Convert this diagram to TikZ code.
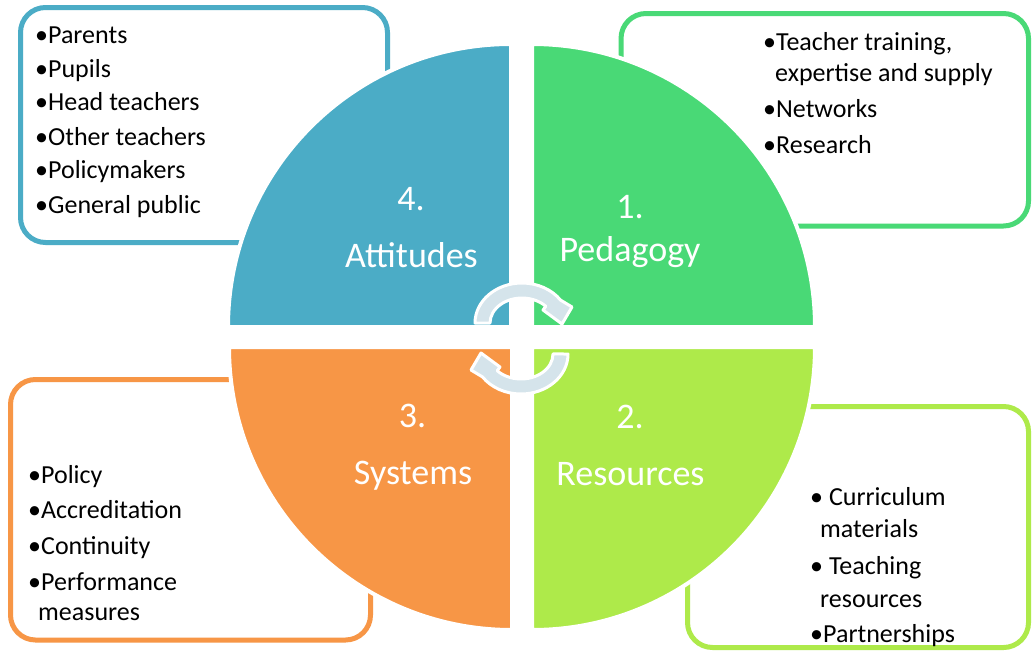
\documentclass[tikz,border=0pt]{standalone}
\usepackage{fontspec}
\setmainfont{Carlito}
\definecolor{qblue}{HTML}{4BACC6}
\definecolor{qgreen}{HTML}{49D976}
\definecolor{qlime}{HTML}{AEEA4A}
\definecolor{qorange}{HTML}{F79646}
\definecolor{arrowfill}{HTML}{D5E4EB}
\begin{document}
\begin{tikzpicture}[x=1pt,y=-1pt,
  item/.style={anchor=base west,inner sep=0pt,font=\fontsize{26}{31}\selectfont,text=black},
  qlabel/.style={anchor=base,inner sep=0pt,font=\fontsize{36}{43}\selectfont,text=white},
  boxframe/.style={line width=5pt,rounded corners=25pt,fill=white},
  quad/.style={draw=white,line width=4pt},
  cyc/.style={fill=arrowfill,draw=white,line width=3pt,line join=round}]
\useasboundingbox[fill=white] (0,0) rectangle (1032,651);

% boxes
\draw[boxframe,draw=qblue] (20.5,7.5) rectangle (387.5,242.5);
\draw[boxframe,draw=qgreen] (621,13.5) rectangle (1028.5,226);
\draw[boxframe,draw=qorange] (10.5,379.5) rectangle (370.5,640);
\draw[boxframe,draw=qlime] (687.5,406.5) rectangle (1028.5,647.5);

% lists
\node[item] (a1) at (35,43) {•Parents};
\node[item] (a2) at (35,77) {•Pupils};
\node[item] (a3) at (35,110) {•Head teachers};
\node[item] (a4) at (35,145) {•Other teachers};
\node[item] (a5) at (35,178) {•Policymakers};
\node[item] (a6) at (35,213) {•General public};

\node[item] (p1) at (763,50) {•Teacher training,};
\node[item] (p1b) at (775,81) {expertise and supply};
\node[item] (p2) at (763,117) {•Networks};
\node[item] (p3) at (763,153) {•Research};

\node[item] (s1) at (28,483) {•Policy};
\node[item] (s2) at (28,518) {•Accreditation};
\node[item] (s3) at (28,554) {•Continuity};
\node[item] (s4) at (28,590) {•Performance};
\node[item] (s4b) at (38,620) {measures};

\node[item] (r1) at (810,505) {• Curriculum};
\node[item] (r1b) at (820,537) {materials};
\node[item] (r2) at (810,574) {• Teaching};
\node[item] (r2b) at (820,607) {resources};
\node[item] (r3) at (810,642) {•Partnerships};

% quadrants
\path[quad,fill=qblue] (511,327) -- (228,327) arc[start angle=180,end angle=270,radius=283] -- cycle;
\path[quad,fill=qgreen] (532,327) -- (532,44) arc[start angle=270,end angle=360,radius=283] -- cycle;
\path[quad,fill=qlime] (532,347) -- (815,347) arc[start angle=0,end angle=90,radius=283] -- cycle;
\path[quad,fill=qorange] (512,347) -- (512,630) arc[start angle=90,end angle=180,radius=283] -- cycle;

% quadrant labels
\node[qlabel] (n4) at (411,210) {4.};
\node[qlabel] (l4) at (411.5,267) {Attitudes};
\node[qlabel] (n1) at (630,218) {1.};
\node[qlabel] (l1) at (630,261) {Pedagogy};
\node[qlabel] (n3) at (412.5,427) {3.};
\node[qlabel] (l3) at (413,484) {Systems};
\node[qlabel] (n2) at (630,428) {2.};
\node[qlabel] (l2) at (630.5,485) {Resources};

% circular arrows
\path[cyc] (475,323) arc[start angle=180,end angle=325,x radius=47,y radius=40]
  -- (572,307) -- (562,324) -- (543,310) -- (545.8,306.3)
  arc[start angle=318,end angle=180,x radius=32,y radius=25] -- cycle;
\begin{scope}[rotate around={180:(521.5,338.5)}]
\path[cyc] (475,323) arc[start angle=180,end angle=325,x radius=47,y radius=40]
  -- (572,307) -- (562,324) -- (543,310) -- (545.8,306.3)
  arc[start angle=318,end angle=180,x radius=32,y radius=25] -- cycle;
\end{scope}
\end{tikzpicture}
\end{document}
